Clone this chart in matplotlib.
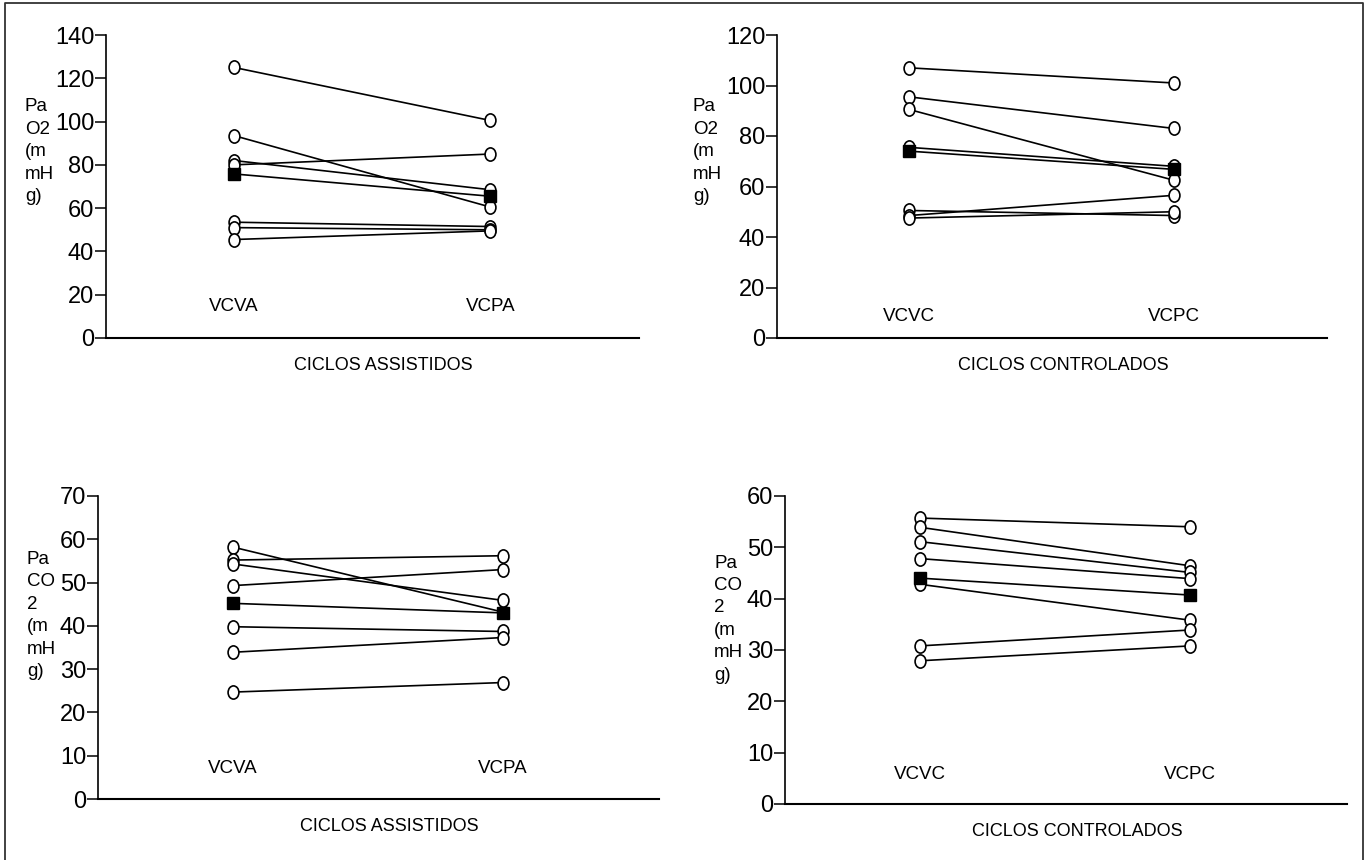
import matplotlib
matplotlib.use("Agg")
import matplotlib.pyplot as plt
from matplotlib.path import Path
from matplotlib.lines import Line2D
import numpy as np

plt.rcParams['font.family'] = ['Liberation Sans', 'DejaVu Sans']

# PaO2, ciclos assistidos
pao2_vcva = [125, 93.5, 82, 80, 53.5, 51, 45.5]
pao2_vcpa = [100.5, 60.5, 68.5, 85, 51.5, 50, 49.5]
pao2_assist_mean = [75.8, 65.5]

# PaO2, ciclos controlados
pao2_vcvc = [107, 95.5, 90.5, 75.5, 50.5, 48.5, 47.5]
pao2_vcpc = [101, 83, 62.5, 68, 48.5, 56.5, 50]
pao2_control_mean = [74, 66.8]

# PaCO2, ciclos assistidos
paco2_vcva = [58.2, 55.2, 54.3, 49.3, 39.8, 33.9, 24.7]
paco2_vcpa = [43.2, 56.2, 45.9, 53, 38.7, 37.3, 26.9]
paco2_assist_mean = [45.2, 43.0]

# PaCO2, ciclos controlados
paco2_vcvc = [55.7, 53.9, 51.1, 47.8, 42.8, 30.8, 27.9]
paco2_vcpc = [54.0, 46.4, 45.1, 43.9, 35.8, 33.9, 30.8]
paco2_control_mean = [44.0, 40.7]

W, H = 1367, 860
fig = plt.figure(figsize=(W / 100, H / 100), dpi=100)

# slightly tall open circle, like the original
circ = Path.unit_circle()
ellipse = Path(circ.vertices * np.array([0.82, 1.0]), circ.codes)


def px_axes(left, right, bottom, top):
    return fig.add_axes([left / W, 1 - bottom / H, (right - left) / W, (bottom - top) / H])


def panel(ax, before, after, mean, ymax, step, cats, title, ylabel, lab_y, ylab_x, ylab_y):
    for a, b in zip(before, after):
        ax.plot([0, 1], [a, b], color='black', lw=1.2, zorder=2)
    ax.plot([0] * len(before) + [1] * len(after), before + after, ls='none',
            marker=ellipse, ms=9.5, mfc='white', mec='black', mew=1.2, zorder=3)
    ax.plot([0, 1], mean, color='black', lw=1.2, zorder=2)
    ax.plot([0, 1], mean, ls='none', marker='s', ms=8.5, color='black', zorder=4)

    ax.set_xlim(-0.5, 1.58)
    ax.set_ylim(0, ymax)
    ax.set_yticks(np.arange(0, ymax + 1, step))
    ax.set_xticks([])
    for s in ['top', 'right']:
        ax.spines[s].set_visible(False)
    ax.spines['left'].set_linewidth(1.2)
    ax.spines['bottom'].set_linewidth(1.5)
    ax.tick_params(axis='y', direction='out', length=8, width=1.1, pad=0.5, labelsize=17)

    for x, c in zip([0, 1], cats):
        ax.text(x, lab_y, c, transform=ax.get_xaxis_transform(), ha='center',
                va='center', fontsize=13.5)
    ax.text(0.52, -0.09, title, transform=ax.transAxes, ha='center', va='center',
            fontsize=13)
    ax.text(ylab_x, ylab_y, ylabel, transform=ax.transAxes, ha='left', va='center',
            fontsize=13.5, linespacing=1.42)


ax1 = px_axes(106, 639, 338, 35)
panel(ax1, pao2_vcva, pao2_vcpa, pao2_assist_mean, 140, 20, ['VCVA', 'VCPA'],
      'CICLOS ASSISTIDOS', 'Pa\nO2\n(m\nmH\ng)', 0.105, -0.152, 0.615)

ax2 = px_axes(777, 1327, 338, 35)
panel(ax2, pao2_vcvc, pao2_vcpc, pao2_control_mean, 120, 20, ['VCVC', 'VCPC'],
      'CICLOS CONTROLADOS', 'Pa\nO2\n(m\nmH\ng)', 0.07, -0.153, 0.615)

ax3 = px_axes(98, 659, 799, 496)
panel(ax3, paco2_vcva, paco2_vcpa, paco2_assist_mean, 70, 10, ['VCVA', 'VCPA'],
      'CICLOS ASSISTIDOS', 'Pa\nCO\n2\n(m\nmH\ng)', 0.1, -0.127, 0.605)

ax4 = px_axes(785, 1347, 804, 496)
panel(ax4, paco2_vcvc, paco2_vcpc, paco2_control_mean, 60, 10, ['VCVC', 'VCPC'],
      'CICLOS CONTROLADOS', 'Pa\nCO\n2\n(m\nmH\ng)', 0.097, -0.126, 0.6)

# frame round the whole figure (open at the bottom edge)
fx = [5 / W, 5 / W, 1363 / W, 1363 / W]
fy = [0, 1 - 3 / H, 1 - 3 / H, 0]
fig.add_artist(Line2D(fx, fy, transform=fig.transFigure, color='#333333', lw=1.3))

fig.savefig('out.png', dpi=100)
